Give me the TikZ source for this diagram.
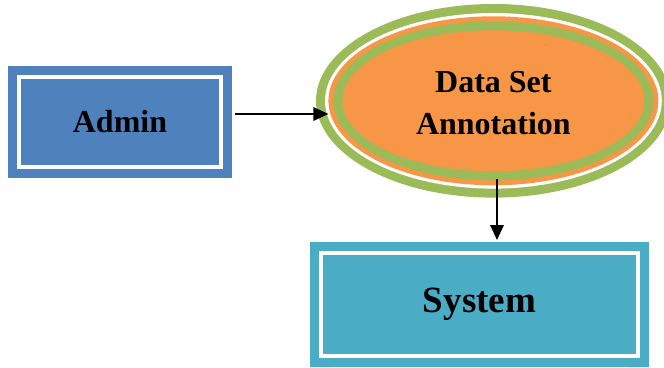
\documentclass[tikz,border=0pt]{standalone}
\usepackage{fontspec}
\setmainfont{Liberation Serif}
\usetikzlibrary{shapes.geometric,arrows.meta}
\definecolor{boxblue}{HTML}{4F81BD}
\definecolor{boxteal}{HTML}{4BACC6}
\definecolor{ellorange}{HTML}{F79646}
\definecolor{ellgreen}{HTML}{9BBB59}
\tikzset{
  framed/.style={rectangle, inner sep=0pt, line width=9pt, double=white,
    double distance=4.3pt, outer sep=11.15pt, font=\bfseries},
  ring/.style={ellipse, inner sep=0pt, outer sep=0pt},
  arr/.style={line width=1.8pt, -{Triangle[length=15pt,width=13.5pt]}},
}
\begin{document}
\begin{tikzpicture}[x=1pt,y=1pt]
\useasboundingbox (0,0) rectangle (664,-367);

% Admin box
\node[framed, draw=boxblue, fill=boxblue, minimum width=201.7pt, minimum height=89.7pt,
  font=\bfseries\fontsize{32}{38}\selectfont] (admin) at (120,-122) {Admin};

% Data Set Annotation ellipse: stacked rings
\node[ring, fill=ellgreen,  minimum width=354.8pt, minimum height=193.6pt] (outer)  at (493.4,-100.8) {};
\node[ring, fill=white,     minimum width=336.8pt, minimum height=175.6pt] (gap)    at (493.4,-100.8) {};
\node[ring, fill=ellorange, minimum width=330pt,   minimum height=169pt]   (orring) at (493.4,-100.8) {};
\node[ring, fill=ellgreen,  minimum width=320pt,   minimum height=159pt]   (inner)  at (493.4,-100.8) {};
\node[ring, fill=ellorange, minimum width=302pt,   minimum height=141pt]   (core)   at (493.4,-100.8) {};
\node[align=center, font=\bfseries\fontsize{32}{42}\selectfont] (label) at (493.4,-103) {Data Set\\Annotation};

% System box
\node[framed, draw=boxteal, fill=boxteal, minimum width=316.7pt, minimum height=102.7pt,
  font=\bfseries\fontsize{37}{44}\selectfont] (sys) at (479.5,-304.5) {System};

% Connectors
\draw[arr, shorten <=3pt] ([yshift=8pt]admin.east) -- ([yshift=8pt]admin.east -| orring.west);
\draw[arr, shorten <=-1pt, shorten >=2pt] ([xshift=3.6pt]inner.south) -- ([xshift=3.6pt]inner.south |- sys.north);
\end{tikzpicture}
\end{document}
